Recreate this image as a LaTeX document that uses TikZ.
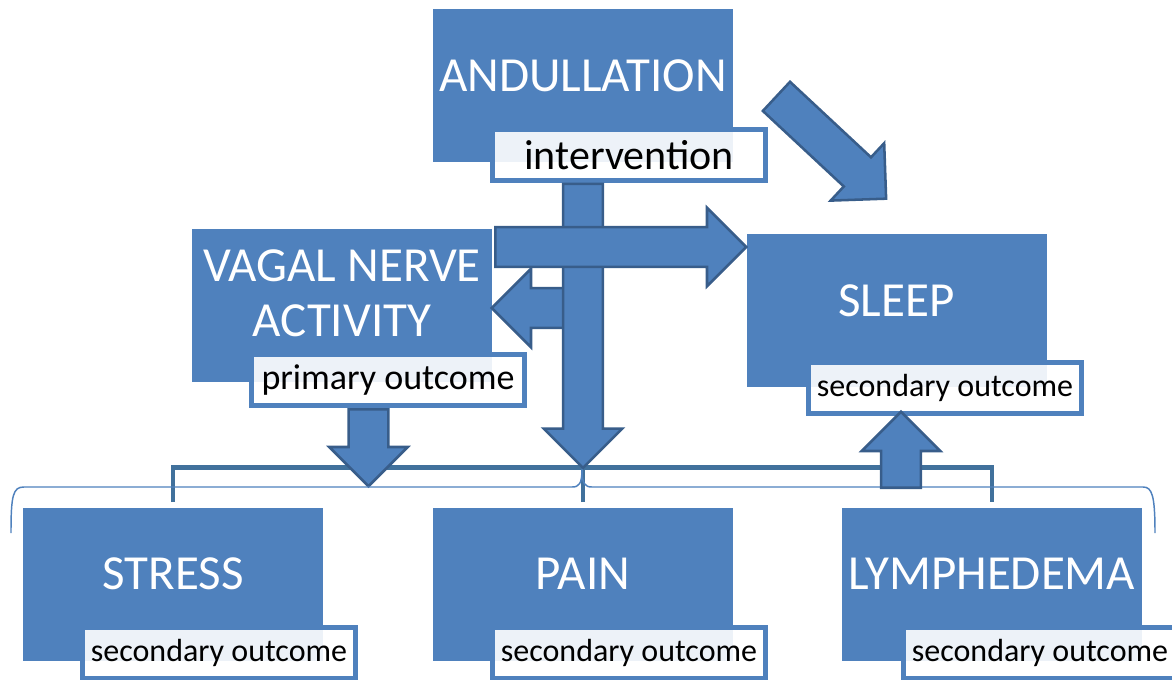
\documentclass[tikz,border=0pt]{standalone}
\usepackage{fontspec}
\setmainfont{Carlito}
\usetikzlibrary{shapes.arrows, positioning}

\definecolor{boxblue}{HTML}{4F81BD}
\definecolor{arrowline}{HTML}{385D8A}
\definecolor{linkblue}{HTML}{41719C}

\begin{document}
\begin{tikzpicture}[
    x=0.75pt, y=-0.75pt,
    % Define the style for the big boxes
    box/.style={
        rectangle,
        fill=boxblue,
        inner sep=0pt,
        minimum width=225pt,
        minimum height=114.75pt
    },
    boxtext/.style={
        text=white,
        align=center,
        inner sep=0pt,
        font=\fontsize{36.75}{41.25}\selectfont
    },
    % Define the style for the small tags
    tag/.style={
        rectangle,
        draw=boxblue,
        line width=3.4pt,
        fill=white,
        fill opacity=0.9,
        text opacity=1,
        inner sep=0pt,
        minimum width=205pt,
        minimum height=38pt,
        font=\fontsize{24}{28}\selectfont
    },
    % Define style for the block arrows
    bigarrow/.style={
        single arrow,
        draw=arrowline,
        fill=boxblue,
        line width=1.9pt,
        inner xsep=0pt,
        inner ysep=14pt,
        anchor=tail,
        minimum width=57pt,
        single arrow head extend=14.5pt
    },
    % Define style for the lines
    link/.style={
        draw=linkblue,
        line width=3.4pt
    },
    brace/.style={
        draw=boxblue,
        line width=1.1pt
    }
]

\useasboundingbox (0,0) rectangle (1172,679);

% 1. Intervention
\node (andul) [box] at (583,85.5) {};
\node (andul-txt) [boxtext] at ([yshift=7.5pt]andul.center) {ANDULLATION};
\node (intv) [tag, font=\fontsize{31.5}{35}\selectfont] at (629,155) {intervention};

% 2. Primary outcome
\node (vagal) [box] at (342,305.5) {};
\node (vagal-txt) [boxtext] at ([yshift=9pt]vagal.center) {VAGAL NERVE\\ACTIVITY};
\node (prim) [tag, font=\fontsize{27}{31}\selectfont] at (388,380) {primary outcome};

% 3. Secondary outcomes
\node (sleep) [box] at (896.5,310.5) {};
\node (sleep-txt) [boxtext] at ([yshift=7.5pt]sleep.center) {SLEEP};
\node (sleep-tag) [tag] at (945,388) {secondary outcome};

\node (stress) [box] at (173,584) {};
\node (stress-txt) [boxtext] at ([yshift=7.5pt]stress.center) {STRESS};
\node (stress-tag) [tag] at (219,653) {secondary outcome};

\node (pain) [box] at (583,584) {};
\node (pain-txt) [boxtext] at ([yshift=7.5pt]pain.center) {PAIN};
\node (pain-tag) [tag] at (629,653) {secondary outcome};

\node (lymph) [box] at (992,584) {};
\node (lymph-txt) [boxtext] at ([yshift=7.5pt]lymph.center) {LYMPHEDEMA};
\node (lymph-tag) [tag] at (1040,653) {secondary outcome};

% Bracket over the bottom row
\draw [link] ([yshift=3.75pt]stress.north) -- ++(0,-35) -| ([yshift=3.75pt]lymph.north);
\draw [link] ([yshift=3.75pt]pain.north) -- ++(0,-35);

% Block arrows
\node (to-vagal) [bigarrow, minimum height=54pt, rotate=180] at (565,308) {};
\node (down) [bigarrow, minimum height=213pt, rotate=-90] at (andul.south |- intv.south) {};
\node (to-sleep) [bigarrow, minimum height=188.25pt] at (494,247) {};
\node (diag) [bigarrow, minimum height=112.5pt, rotate=-43] at (775.5,95.5) {};
\node (prim-down) [bigarrow, minimum height=57.75pt, rotate=-90] at (368.5,408) {};

\draw [brace] (11,533) .. controls (11,495) and (13,487) .. (24,487) -- (572,487)
    .. controls (579,487) and (582,484) .. (582,469)
    .. controls (582,484) and (585,487) .. (592,487) -- (1143,487)
    .. controls (1152,487) and (1155,495) .. (1155,533);

\node (up) [bigarrow, minimum height=57pt, rotate=90] at (901,489) {};

\end{tikzpicture}
\end{document}
